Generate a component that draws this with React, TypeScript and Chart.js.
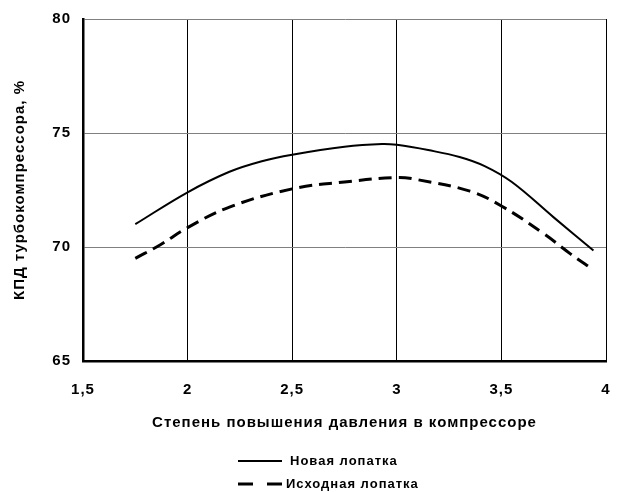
import React, { useEffect, useRef } from "react";
import { Chart, registerables } from "chart.js";

Chart.register(...registerables);

const xNew = [1.75, 2.0, 2.2, 2.35, 2.5, 2.75, 2.93, 3.0, 3.15, 3.3, 3.42, 3.55, 3.75, 3.94];
const yNew = [71.0, 72.4, 73.3, 73.75, 74.05, 74.4, 74.52, 74.48, 74.25, 73.95, 73.55, 72.85, 71.3, 69.85];

const xOld = [1.75, 1.87, 2.0, 2.2, 2.5, 2.75, 3.0, 3.1, 3.35, 3.5, 3.7, 3.83, 3.94];
const yOld = [69.5, 70.1, 70.85, 71.75, 72.55, 72.85, 73.05, 72.95, 72.45, 71.8, 70.6, 69.7, 69.0];

const seriesNames = ["Новая лопатка", "Исходная лопатка"];
const xTitle = "Степень повышения давления в компрессоре";
const yTitle = "КПД турбокомпрессора, %";

const FONT = "'Liberation Sans', Arial, sans-serif";

const spacingPlugin = {
  id: "letterSpacing",
  beforeUpdate(chart: any) {
    chart.ctx.letterSpacing = "1px";
  },
  beforeDraw(chart: any) {
    chart.ctx.letterSpacing = "1px";
  },
};

const legendPlugin = {
  id: "customLegend",
  afterDraw(chart: any) {
    const ctx = chart.ctx;
    ctx.save();
    ctx.letterSpacing = "1px";
    ctx.strokeStyle = "#000";
    ctx.fillStyle = "#000";
    ctx.font = `bold 13px ${FONT}`;
    ctx.textBaseline = "middle";
    // row 1
    ctx.lineWidth = 2;
    ctx.setLineDash([]);
    ctx.beginPath();
    ctx.moveTo(238, 461);
    ctx.lineTo(282, 461);
    ctx.stroke();
    ctx.fillText(seriesNames[0], 290, 461);
    // row 2
    ctx.lineWidth = 3;
    ctx.setLineDash([15, 14]);
    ctx.beginPath();
    ctx.moveTo(238, 484);
    ctx.lineTo(282, 484);
    ctx.stroke();
    ctx.setLineDash([]);
    ctx.fillText(seriesNames[1], 286, 484);
    ctx.restore();
  },
};

export default function App() {
  const ref = useRef<HTMLCanvasElement>(null);
  useEffect(() => {
    if (!ref.current) return;
    const chart = new Chart(ref.current, {
      type: "line",
      data: {
        datasets: [
          {
            label: seriesNames[0],
            data: xNew.map((x, i) => ({ x, y: yNew[i] })),
            borderColor: "#000",
            borderWidth: 2,
            pointRadius: 0,
            tension: 0.4,
            fill: false,
          },
          {
            label: seriesNames[1],
            data: xOld.map((x, i) => ({ x, y: yOld[i] })),
            borderColor: "#000",
            borderWidth: 3,
            borderDash: [13, 7],
            pointRadius: 0,
            tension: 0.4,
            fill: false,
          },
        ],
      },
      options: {
        responsive: false,
        animation: false,
        layout: { padding: { left: 0, right: 11, top: 19, bottom: 0 } },
        plugins: {
          legend: { display: false },
          tooltip: { enabled: false },
        },
        scales: {
          x: {
            type: "linear",
            min: 1.5,
            max: 4,
            ticks: {
              stepSize: 0.5,
              color: "#000",
              font: { family: FONT, size: 15, weight: "bold" },
              padding: 20,
              callback: (v: any) => String(v).replace(".", ","),
            },
            grid: { color: "#000", lineWidth: 1, drawTicks: false },
            border: { color: "#000", width: 2.5 },
            title: {
              display: true,
              text: xTitle,
              color: "#000",
              font: { family: FONT, size: 15, weight: "bold" },
              padding: { top: 0, bottom: 60 },
            },
            afterFit: (s: any) => {
              s.height = 131;
              s.paddingLeft = 0;
              s.paddingRight = 0;
            },
          },
          y: {
            min: 65,
            max: 80,
            ticks: {
              stepSize: 5,
              color: "#000",
              font: { family: FONT, size: 15, weight: "bold" },
              padding: 12,
            },
            grid: { color: "#808080", lineWidth: 1, drawTicks: false },
            border: { color: "#000", width: 2.5 },
            title: {
              display: true,
              text: yTitle,
              color: "#000",
              font: { family: FONT, size: 15, weight: "bold" },
              padding: { top: 11, bottom: 0 },
            },
            afterFit: (s: any) => {
              s.width = 83;
              s.paddingTop = 0;
              s.paddingBottom = 0;
            },
          },
        },
      },
      plugins: [spacingPlugin, legendPlugin],
    });
    return () => chart.destroy();
  }, []);
  return (
    <div style={{ position: "absolute", left: 0, top: 0, width: 617, height: 492, background: "#fff" }}>
      <canvas ref={ref} width={617} height={492} />
    </div>
  );
}
